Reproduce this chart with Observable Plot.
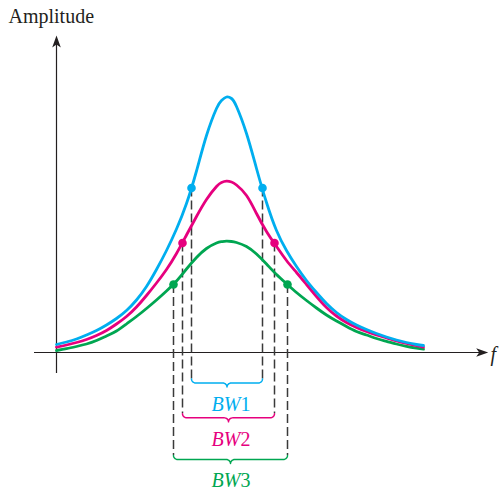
<!DOCTYPE html>
<html>
<head>
<meta charset="utf-8">
<script src="https://cdn.jsdelivr.net/npm/d3@7"></script>
<script src="https://cdn.jsdelivr.net/npm/@observablehq/plot@0.6"></script>
<style>
  html, body { margin: 0; padding: 0; background: #fff; }
  svg { display: block; }
</style>
</head>
<body>
<div id="chart"></div>
<script>
// ---------- data ----------
const seriesNames = ["BW1", "BW2", "BW3"];
const seriesColors = ["#00aeef", "#e6007e", "#00a651"];

// frequency samples (arbitrary units, 0 = vertical axis)
const freqs = [0, 1, 2, 3, 4, 5, 6, 7, 8, 9, 10, 11, 12, 13, 14, 15, 16, 16.5, 17, 17.5, 18, 19, 20, 21, 22, 23, 24, 25, 26, 27, 28, 29, 30, 31, 32, 33, 34, 35, 36, 36.7];

const blueA  = [0.8, 1.05, 1.35, 1.75, 2.2, 2.75, 3.4, 4.2, 5.25, 6.6, 8.3, 10.2, 12.35, 14.9, 18.15, 21.7, 24.4, 25.2, 25.55, 25.4, 24.6, 21.9, 18.4, 15.0, 12.2, 10.2, 8.6, 7.2, 6.0, 4.9, 4.0, 3.3, 2.75, 2.3, 1.9, 1.55, 1.25, 1.0, 0.8, 0.7];
const pinkA  = [0.53, 0.75, 1.0, 1.3, 1.7, 2.2, 2.85, 3.6, 4.55, 5.7, 6.95, 8.3, 9.9, 11.75, 13.6, 15.3, 16.6, 17.0, 17.13, 17.05, 16.75, 15.7, 13.9, 12.1, 10.6, 9.2, 8.0, 6.8, 5.6, 4.5, 3.65, 3.0, 2.5, 2.1, 1.75, 1.45, 1.15, 0.9, 0.68, 0.53];
const greenA = [0.2, 0.38, 0.6, 0.85, 1.2, 1.65, 2.15, 2.85, 3.6, 4.4, 5.25, 6.15, 7.15, 8.35, 9.5, 10.4, 10.95, 11.08, 11.13, 11.1, 11.0, 10.6, 9.85, 8.85, 7.8, 6.88, 6.0, 5.2, 4.45, 3.75, 3.15, 2.6, 2.1, 1.75, 1.4, 1.12, 0.85, 0.62, 0.44, 0.33];

// half-power points (low f, high f) and amplitude at those points
const halfLowF  = [13.5, 12.6, 11.7];
const halfHighF = [20.6, 21.8, 23.1];
const halfAmp   = [16.45, 10.95, 6.8];

const bwDigits = ["1", "2", "3"];

// ---------- layout constants ----------
const braceLine = [-3.05, -6.53, -10.7];   // level of each brace
const braceH = 0.4, braceR = 0.45;
const labelBase = [-5.8, -9.3, -13.4];
const labelSplit = 18.4;
const serif = "Liberation Serif, Times New Roman, serif";
const ink = "#231f20";

const curves = [blueA, pinkA, greenA]
  .map((amps, i) => freqs.map((f, j) => ({f, a: amps[j], s: seriesNames[i]})));

const dots = seriesNames.flatMap((s, i) => [
  {f: halfLowF[i], a: halfAmp[i], s},
  {f: halfHighF[i], a: halfAmp[i], s}
]);

const dashes = seriesNames.flatMap((s, i) => [
  {f: halfLowF[i], y1: halfAmp[i], y2: braceLine[i] + braceH},
  {f: halfHighF[i], y1: halfAmp[i], y2: braceLine[i] + braceH}
]);

function arc(cx, cy, t0, t1, n = 8) {
  const pts = [];
  for (let k = 0; k <= n; k++) {
    const t = (t0 + (t1 - t0) * k / n) * Math.PI / 180;
    pts.push([cx + braceR * Math.cos(t), cy + braceH * Math.sin(t)]);
  }
  return pts;
}
const braces = seriesNames.flatMap((s, i) => {
  const x0 = halfLowF[i], x1 = halfHighF[i], y = braceLine[i];
  const xm = (x0 + x1) / 2;
  const pts = [
    ...arc(x0 + braceR, y + braceH, 180, 270),
    ...arc(xm - braceR, y - braceH, 90, 0),
    ...arc(xm + braceR, y - braceH, 180, 90),
    ...arc(x1 - braceR, y + braceH, 270, 360)
  ];
  return pts.map(([f, a]) => ({f, a, s}));
});

const labels = seriesNames.map((s, i) => ({s, d: bwDigits[i], y: labelBase[i]}));

const arrowRight = {draw(ctx) { ctx.moveTo(0, 0); ctx.lineTo(-12, -4.3); ctx.lineTo(-9, 0); ctx.lineTo(-12, 4.3); ctx.closePath(); }};
const arrowUp = {draw(ctx) { ctx.moveTo(0, 0); ctx.lineTo(-4.3, 12); ctx.lineTo(0, 9); ctx.lineTo(4.3, 12); ctx.closePath(); }};

const color = {domain: seriesNames, range: seriesColors};

const chart = Plot.plot({
  width: 500,
  height: 491,
  marginLeft: 56,
  marginRight: 0,
  marginTop: 0,
  marginBottom: 0,
  x: {domain: [0, 44.4], axis: null},
  y: {domain: [-13.9, 35.2], axis: null},
  color,
  marks: [
    // axes
    Plot.ruleY([0], {x1: -2.2, x2: 42.5, stroke: ink, strokeWidth: 1.2}),
    Plot.ruleX([0], {y1: -2.1, y2: 31.0, stroke: ink, strokeWidth: 1.2}),
    Plot.dot([{f: 43.17, a: 0}], {x: "f", y: "a", symbol: arrowRight, fill: ink, stroke: null, r: 5}),
    Plot.dot([{f: 0, a: 31.7}], {x: "f", y: "a", symbol: arrowUp, fill: ink, stroke: null, r: 5}),
    // dashed drop lines
    Plot.ruleX(dashes, {x: "f", y1: "y1", y2: "y2", stroke: "#3a3a3a", strokeWidth: 1.5, strokeDasharray: "9,4"}),
    // curves
    ...[2, 1, 0].map(i => Plot.line(curves[i], {x: "f", y: "a", stroke: seriesColors[i], strokeWidth: 2.8, curve: "natural"})),
    // half-power dots
    Plot.dot(dots, {x: "f", y: "a", fill: "s", r: 4.3}),
    // braces
    Plot.line(braces, {x: "f", y: "a", z: "s", stroke: "s", strokeWidth: 1.5}),
    // BW labels
    Plot.text(labels, {x: labelSplit, y: "y", text: () => "BW", fill: "s", fontFamily: serif, fontStyle: "italic", fontSize: 20, textAnchor: "end", lineAnchor: "bottom"}),
    Plot.text(labels, {x: labelSplit, y: "y", text: "d", fill: "s", fontFamily: serif, fontSize: 20, textAnchor: "start", lineAnchor: "bottom"}),
    // axis titles
    Plot.text(["Amplitude"], {x: -4.8, y: 32.93, text: d => d, fill: ink, fontFamily: serif, fontSize: 20, textAnchor: "start", lineAnchor: "bottom"}),
    Plot.text(["f"], {x: 43.4, y: -0.8, text: d => d, fill: ink, fontFamily: serif, fontStyle: "italic", fontSize: 20, textAnchor: "start", lineAnchor: "bottom"})
  ]
});
document.getElementById("chart").appendChild(chart);
</script>
</body>
</html>
